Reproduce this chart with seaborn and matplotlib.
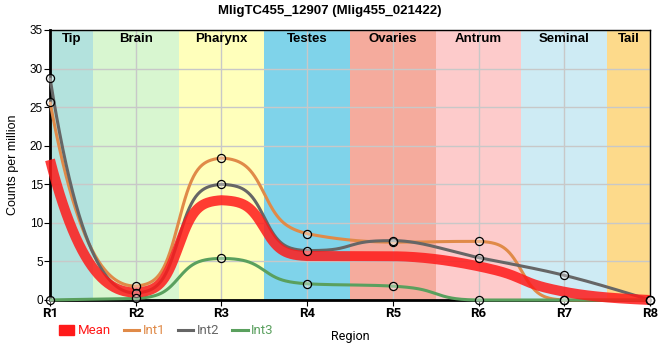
import numpy as np
import pandas as pd
import matplotlib
matplotlib.use("Agg")
import matplotlib.pyplot as plt
from matplotlib.lines import Line2D
from matplotlib.patches import Patch
import seaborn as sns

# region labels / data
regions = ["R1", "R2", "R3", "R4", "R5", "R6", "R7", "R8"]
tissues = ["Tip", "Brain", "Pharynx", "Testes", "Ovaries", "Antrum", "Seminal", "Tail"]
tissue_colors = ["#b3e2dd", "#d8f6d0", "#ffffbb", "#7fd3ea", "#f5ab9d", "#fdcbcb", "#ceebf4", "#fdda8b"]
int1 = [25.7, 1.8, 18.4, 8.6, 7.5, 7.6, 0.0, 0.0]
int2 = [28.8, 0.9, 15.0, 6.4, 7.7, 5.5, 3.2, 0.0]
int3 = [0.0, 0.2, 5.4, 2.1, 1.8, 0.0, 0.0, 0.0]
mean = list(np.mean([int1, int2, int3], axis=0))

series_colors = {"Mean": "#ff1a1a", "Int1": "#e08a48", "Int2": "#666666", "Int3": "#5aa05e"}

plt.rcParams["font.family"] = ["Liberation Sans", "DejaVu Sans"]


def smooth_curve(y, n=80):
    # monotone cubic smoothing, transitions sharpened between flat points
    y = np.asarray(y, float)
    m = len(y)
    s = np.diff(y)
    t = np.zeros(m)
    for i in range(1, m - 1):
        s0, s1 = s[i - 1], s[i]
        p = (s0 + s1) / 2
        t[i] = (np.sign(s0) + np.sign(s1)) * min(abs(s0), abs(s1), 0.5 * abs(p))
    t[0] = (5 * s[0] - t[1]) / 2
    t[-1] = (3 * s[-1] - t[-2]) / 2
    k = 10.0
    lo, hi = 1 / (1 + np.exp(k / 2)), 1 / (1 + np.exp(-k / 2))
    xs, ys = [], []
    for i in range(m - 1):
        u = np.linspace(0, 1, n, endpoint=(i == m - 2))
        h10 = u**3 - 2 * u**2 + u
        h01 = -2 * u**3 + 3 * u**2
        h11 = u**3 - u**2
        d = y[i + 1] - y[i]
        w = 0.0
        if abs(d) > 1e-9:
            w = np.clip(1 - max(abs(t[i]), abs(t[i + 1])) / abs(d), 0, 1)
        sig = (1 / (1 + np.exp(-k * (u - 0.5))) - lo) / (hi - lo)
        b = h01 + w * (sig - h01)
        xs.append(i + u)
        ys.append(y[i] + d * b + h10 * t[i] + h11 * t[i + 1])
    return np.concatenate(xs), np.concatenate(ys)


fig = plt.figure(figsize=(6.6, 3.6), dpi=100)
ax = fig.add_axes([50 / 660, 60 / 360, 600 / 660, 270 / 360])

# tissue background bands
for i, (name, c) in enumerate(zip(tissues, tissue_colors)):
    lo_x = max(i - 0.5, 0)
    hi_x = min(i + 0.5, len(regions) - 1)
    ax.axvspan(lo_x, hi_x, color=c, lw=0, zorder=0)
    ax.text((lo_x + hi_x) / 2, 34.6, name, ha="center", va="top", fontsize=9.5,
            fontweight="bold", zorder=5)

ax.grid(True, color="#c8c8c8", lw=1, zorder=1)
ax.set_axisbelow(True)

curves = []
for name, vals in [("Int1", int1), ("Int2", int2), ("Int3", int3), ("Mean", mean)]:
    xs, ys = smooth_curve(vals)
    curves.append(pd.DataFrame({"x": xs, "y": ys, "series": name}))
curves = pd.concat(curves)

sns.lineplot(data=curves[curves.series != "Mean"], x="x", y="y", hue="series",
             palette=series_colors, lw=2.2, ax=ax, legend=False, sort=False, zorder=3)
sns.lineplot(data=curves[curves.series == "Mean"], x="x", y="y", color=series_colors["Mean"],
             lw=7.2, alpha=0.85, ax=ax, legend=False, sort=False, zorder=4)
for line in ax.lines:
    line.set_clip_on(False)
    line.set_solid_capstyle("butt")

pts = pd.DataFrame({"x": list(range(len(regions))) * 3,
                    "y": int1 + int2 + int3})
sns.scatterplot(data=pts, x="x", y="y", s=34, facecolor=(1, 1, 1, 0.35), edgecolor="black",
                linewidth=0.9, ax=ax, zorder=6, clip_on=False)

ax.set_xlim(0, len(regions) - 1)
ax.set_ylim(0, 35)
ax.set_xticks(range(len(regions)))
ax.set_xticklabels(regions, fontweight="bold", fontsize=9.5, family=["Roboto", "DejaVu Sans"])
ax.set_yticks(range(0, 36, 5))
ax.tick_params(axis="y", labelsize=8.5, length=4, pad=1)
ax.tick_params(axis="x", length=4, pad=1)
ax.set_xlabel("Region", fontsize=9, labelpad=7, family=["Roboto", "DejaVu Sans"])
ax.set_ylabel("Counts per million", fontsize=9, labelpad=8)
for side in ["left", "bottom"]:
    ax.spines[side].set_linewidth(2)
for side in ["top", "right"]:
    ax.spines[side].set_linewidth(1)

fig.suptitle("MligTC455_12907 (Mlig455_021422)", fontsize=9.5, fontweight="bold", y=0.985)

handles = [Patch(color=series_colors["Mean"], label="Mean"),
           Line2D([], [], color=series_colors["Int1"], lw=2.2, label="Int1"),
           Line2D([], [], color=series_colors["Int2"], lw=2.2, label="Int2"),
           Line2D([], [], color=series_colors["Int3"], lw=2.2, label="Int3")]
leg = fig.legend(handles=handles, loc="center left", bbox_to_anchor=(54 / 660, 29 / 360),
                 ncol=4, frameon=False, handlelength=1.15, handletextpad=0.25,
                 columnspacing=1.0, borderaxespad=0,
                 prop={"family": ["Roboto", "DejaVu Sans"], "size": 9.5})
for txt, h in zip(leg.get_texts(), handles):
    txt.set_color(series_colors[h.get_label()])

fig.savefig("out.png", dpi=100)
